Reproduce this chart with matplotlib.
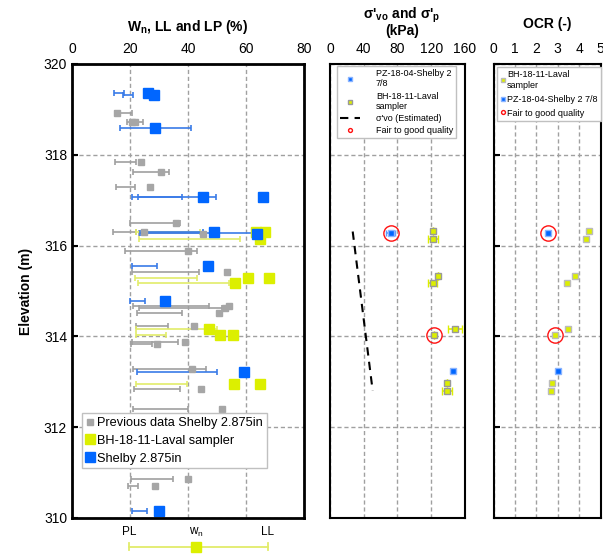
import numpy as np
import matplotlib
matplotlib.use('Agg')
import matplotlib.pyplot as plt
from matplotlib.lines import Line2D

plt.rcParams['font.family'] = ['Liberation Sans', 'DejaVu Sans']
plt.rcParams['mathtext.fontset'] = 'custom'
plt.rcParams['mathtext.rm'] = 'Liberation Sans'
plt.rcParams['mathtext.bf'] = 'Liberation Sans:bold'

# ---- Panel 1 : water content and Atterberg limits ----
# previous data Shelby 2.875in (gray)
gray_elev = [318.93, 318.73, 318.73, 317.85, 317.63, 317.28, 316.50, 316.31, 316.26,
             315.88, 315.42, 314.68, 314.62, 314.52, 314.23, 313.88, 313.83, 313.29,
             312.84, 312.40, 310.85, 310.71]
gray_wn = [15.4, 20.8, 21.7, 23.7, 30.6, 26.9, 35.9, 24.9, 45.3,
           39.9, 53.4, 54.1, 52.8, 50.7, 42.1, 39.0, 29.2, 41.4,
           44.6, 51.6, 39.9, 28.5]
gray_bar_elev = [318.93, 318.73, 317.85, 317.63, 317.28, 316.50, 316.31, 316.27, 315.88,
                 315.42, 314.68, 314.62, 314.52, 314.23, 313.88, 313.84, 313.29, 312.84,
                 312.40, 310.85, 310.71]
gray_pl = [14.8, 18.9, 14.8, 21.1, 15.0, 20.0, 14.0, 23.0, 18.3,
           20.6, 21.1, 23.2, 22.3, 22.1, 20.6, 20.3, 20.9, 21.4,
           21.1, 20.3, 19.2]
gray_ll = [20.8, 24.6, 22.0, 33.4, 21.7, 37.2, 22.0, 45.3, 43.0,
           43.8, 47.2, 51.6, 37.8, 33.2, 36.7, 27.7, 46.1, 37.4,
           39.9, 34.8, 22.9]

# BH-18-11-Laval sampler (yellow)
yel_elev = [316.31, 316.31, 316.14, 315.29, 315.29, 315.17, 314.17, 314.02, 314.02, 312.96, 312.96]
yel_wn = [63.4, 66.6, 64.7, 60.8, 67.9, 56.2, 47.2, 51.0, 55.4, 55.9, 64.8]
yel_bar_elev = [316.31, 316.14, 315.29, 315.17, 314.17, 314.02, 312.96]
yel_pl = [21.9, 23.1, 21.7, 22.9, 22.0, 22.0, 22.1]
yel_ll = [44.1, 57.9, 43.0, 54.2, 49.9, 32.3, 39.8]

# Shelby 2.875in (blue)
blue_elev = [319.37, 319.32, 318.60, 317.08, 317.08, 316.31, 316.26, 315.55, 314.79, 313.22, 310.16]
blue_wn = [26.1, 28.3, 28.6, 45.1, 65.8, 48.9, 63.9, 46.8, 32.1, 59.2, 30.0]
blue_bar_elev = [319.37, 319.32, 318.60, 317.08, 317.08, 316.30, 316.27, 315.55, 314.79, 313.22, 310.16]
blue_pl = [14.6, 17.5, 16.6, 20.6, 22.8, 24.2, 23.4, 20.8, 20.0, 22.4, 20.6]
blue_ll = [18.0, 21.1, 40.9, 49.7, 37.8, 45.3, 62.4, 29.3, 25.3, 50.0, 25.9]

# ---- Panel 2 : stresses ----
sp_yel_elev = [316.33, 316.15, 315.32, 315.18, 314.17, 314.02, 312.97, 312.80]
sp_yel = [121.6, 122.0, 128.4, 121.6, 148.0, 123.2, 138.6, 139.0]
sp_yel_err = [0, 6, 0, 5, 8.5, 0, 0, 6]
sp_blue_elev = [316.27, 313.24]
sp_blue = [71.9, 146.1]
sp_blue_err = [5, 0]
svo_elev = [316.31, 312.80]
svo = [26.9, 50.6]
good_elev = [316.27, 314.02]
good_sp = [71.9, 123.2]

# ---- Panel 3 : OCR ----
ocr_yel_elev = [316.33, 316.15, 315.32, 315.18, 314.17, 314.02, 312.97, 312.80]
ocr_yel = [4.48, 4.34, 3.79, 3.43, 3.49, 2.86, 2.75, 2.70]
ocr_blue_elev = [316.27, 313.24]
ocr_blue = [2.57, 3.03]
good_ocr = [2.57, 2.86]

c_gray = '#a6a6a6'
c_yel = '#dcef00'
c_blue = '#0066ff'
c_grid = '#a0a0a0'

fig = plt.figure(figsize=(6.03, 5.54), dpi=100)
ax1 = fig.add_axes([72/603, 1 - 518/554, 232/603, 454/554])
ax2 = fig.add_axes([330/603, 1 - 518/554, 135/603, 454/554])
ax3 = fig.add_axes([493.5/603, 1 - 518/554, 107/603, 454/554])

for ax in (ax1, ax2, ax3):
    ax.set_ylim(310, 320)
    ax.set_yticks([310, 312, 314, 316, 318, 320])
    ax.xaxis.tick_top()
    ax.grid(True, color=c_grid, linestyle=(0, (3, 2)), linewidth=1)
    ax.set_axisbelow(True)
    ax.tick_params(axis='x', length=0, labelsize=10, pad=6)
    ax.tick_params(axis='y', direction='in', length=4, width=1.5, labelsize=10)

# panel 1
eb = dict(fmt='none', capsize=2.5, elinewidth=1.2, capthick=1.2)
for be, pl, ll, col in [(gray_bar_elev, gray_pl, gray_ll, '#a0a0a0'),
                        (yel_bar_elev, yel_pl, yel_ll, '#e2ec6a'),
                        (blue_bar_elev, blue_pl, blue_ll, '#3a7be8')]:
    pl = np.array(pl)
    ll = np.array(ll)
    mid = (pl + ll) / 2
    ax1.errorbar(mid, be, xerr=(ll - pl) / 2, ecolor=col, **eb)
ax1.plot(gray_wn, gray_elev, 's', color=c_gray, ms=5, ls='none', label='Previous data Shelby 2.875in')
ax1.plot(yel_wn, yel_elev, 's', color=c_yel, ms=6.5, ls='none', label='BH-18-11-Laval sampler')
ax1.plot(blue_wn, blue_elev, 's', color=c_blue, ms=6.5, ls='none', label='Shelby 2.875in')
ax1.set_xlim(0, 80)
ax1.set_xticks([0, 20, 40, 60, 80])
ax1.set_ylabel('Elevation (m)', fontsize=10, fontweight='bold', labelpad=8)
for s in ax1.spines.values():
    s.set_linewidth(2)
leg = ax1.legend(loc='lower left', bbox_to_anchor=(0.015, 0.095), fontsize=9.2, handlelength=0.6,
                 handletextpad=0.3, borderpad=0.3, labelspacing=0.45, fancybox=False,
                 edgecolor='#c0c0c0', framealpha=1, markerscale=1.0)
leg.get_frame().set_linewidth(1)

# schematic below panel 1
tr = ax1.transAxes
ax1.plot([0.246, 0.843], [-0.063, -0.063], color='#e2ec6a', lw=1.3, transform=tr, clip_on=False)
for xx in (0.246, 0.843):
    ax1.plot([xx, xx], [-0.055, -0.071], color='#e2ec6a', lw=1.3, transform=tr, clip_on=False)
ax1.plot([0.534], [-0.063], 's', color=c_yel, ms=6.5, transform=tr, clip_on=False)
ax1.text(0.246, -0.031, 'PL', transform=tr, ha='center', va='center', fontsize=8.5)
ax1.text(0.534, -0.031, 'w$_\\mathregular{n}$', transform=tr, ha='center', va='center', fontsize=8.5)
ax1.text(0.843, -0.031, 'LL', transform=tr, ha='center', va='center', fontsize=8.5)

# panel 2
ax2.errorbar(sp_yel, sp_yel_elev, xerr=sp_yel_err, fmt='none', ecolor=c_yel, capsize=3, elinewidth=1.2)
ax2.errorbar(sp_blue, sp_blue_elev, xerr=sp_blue_err, fmt='none', ecolor='#5b9bff', capsize=2, elinewidth=1.2)
ax2.plot(sp_blue, sp_blue_elev, 's', color=c_blue, mec='#8ab4ff', mew=1, ms=4.5, ls='none',
         label='PZ-18-04-Shelby 2\n7/8')
ax2.plot(sp_yel, sp_yel_elev, 's', color=c_yel, mec='#999999', mew=1, ms=5, ls='none',
         label='BH-18-11-Laval\nsampler')
ax2.plot(svo, svo_elev, color='black', ls=(0, (4, 3)), lw=1.5, label="σ'vo (Estimated)")
ax2.plot(good_sp, good_elev, 'o', mfc='none', mec='#ff1010', mew=1, ms=11, ls='none',
         label='Fair to good quality')
ax2.set_xlim(0, 160)
ax2.set_xticks([0, 40, 80, 120, 160])
ax2.set_yticklabels([])
ax2.tick_params(axis='y', length=0)
for s in ax2.spines.values():
    s.set_linewidth(1.5)
h, l = ax2.get_legend_handles_labels()
h[3] = Line2D([], [], marker='o', mfc='none', mec='#ff1010', mew=1, ms=4, ls='none')
leg2 = ax2.legend(h, l, loc='upper left', bbox_to_anchor=(0.035, 1.0), fontsize=6.5, handlelength=2.2,
                  handletextpad=1.8, borderpad=0.35, labelspacing=0.35, fancybox=False,
                  edgecolor='#c0c0c0', framealpha=1, markerscale=0.7, borderaxespad=0.2)

# panel 3
ax3.plot(ocr_yel, ocr_yel_elev, 's', color=c_yel, mec='#bbbbbb', mew=1, ms=5, ls='none',
         label='BH-18-11-Laval\nsampler')
ax3.plot(ocr_blue, ocr_blue_elev, 's', color=c_blue, mec='#8ab4ff', mew=1, ms=5, ls='none',
         label='PZ-18-04-Shelby 2 7/8')
ax3.plot(good_ocr, good_elev, 'o', mfc='none', mec='#ff1010', mew=1, ms=11, ls='none',
         label='Fair to good quality')
ax3.set_xlim(0, 5)
ax3.set_xticks([0, 1, 2, 3, 4, 5])
ax3.set_yticklabels([])
for s in ax3.spines.values():
    s.set_linewidth(1.5)
h, l = ax3.get_legend_handles_labels()
h[2] = Line2D([], [], marker='o', mfc='none', mec='#ff1010', mew=1, ms=4, ls='none')
leg3 = ax3.legend(h, l, loc='upper left', bbox_to_anchor=(0.01, 1.0), fontsize=6.5, handlelength=0.5,
                  handletextpad=0.2, borderpad=0.4, labelspacing=0.55, fancybox=False,
                  edgecolor='#c0c0c0', framealpha=1, markerscale=0.7, borderaxespad=0.3)

# panel titles placed in figure pixels
H = 554
fig.text(188/603, 1 - 27/H, 'W$_{\\mathbf{n}}$, LL and LP (%)', ha='center', va='center',
         fontsize=10, fontweight='bold')
fig.text(402/603, 1 - 15/H, "σ'$_{\\mathbf{vo}}$ and σ'$_{\\mathbf{p}}$", ha='center', va='center',
         fontsize=10, fontweight='bold')
fig.text(402/603, 1 - 31/H, '(kPa)', ha='center', va='center', fontsize=10, fontweight='bold')
fig.text(547/603, 1 - 24/H, 'OCR (-)', ha='center', va='center', fontsize=10, fontweight='bold')

fig.savefig('out.png', dpi=100)
